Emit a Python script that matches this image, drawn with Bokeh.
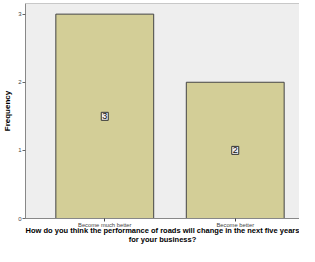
from bokeh.plotting import figure
from bokeh.models import Range1d, FixedTicker, Span, ColumnDataSource, LinearAxis
from bokeh.core.properties import value
from bokeh.embed import file_html
from bokeh.resources import INLINE

categories = ["Become much better", "Become better"]
positions = [1, 2]
counts = [3, 2]
y_ticks = [0, 1, 2, 3]
x_title_lines = ["How do you think the performance of roads will change in the next five years",
                 "for your business?"]
y_title = "Frequency"

FONT = "Liberation Sans"

p = figure(width=299, height=246, output_backend="svg", toolbar_location=None,
           x_range=Range1d(0.3925, 2.4925), y_range=Range1d(0, 3.156),
           min_border_left=19, min_border_top=3, min_border_bottom=0, min_border_right=0)
p.background_fill_color = "#eeeeee"
p.border_fill_color = "white"
p.outline_line_color = None
p.xgrid.visible = False
p.ygrid.visible = False

src = ColumnDataSource(dict(x=positions, top=counts, mid=[c / 2 for c in counts],
                            lab=[str(c) for c in counts]))
p.vbar(x="x", top="top", width=0.75, source=src, fill_color="#d3ce97",
       line_color="#444444", line_width=1)
p.text(x="x", y="mid", text="lab", source=src, text_align="center", text_baseline="middle",
       text_font=value(FONT), text_font_size="9px", text_color="#111111",
       background_fill_color="#eeeeee", border_line_color="#333333", border_line_width=1,
       padding=1)

p.add_layout(Span(location=3.156, dimension="width", line_color="#999999", line_width=1))

ya = p.yaxis[0]
ya.ticker = FixedTicker(ticks=y_ticks)
ya.minor_tick_line_color = None
ya.major_tick_in = 0
ya.major_tick_out = 3
ya.axis_line_color = "#888888"
ya.major_tick_line_color = "#666666"
ya.major_label_text_font = FONT
ya.major_label_text_font_size = "6px"
ya.major_label_standoff = 1
ya.axis_label = y_title
ya.axis_label_text_font = FONT
ya.axis_label_text_font_size = "8px"
ya.axis_label_text_font_style = "bold"
ya.axis_label_text_color = "black"
ya.axis_label_standoff = 3

xa = p.xaxis[0]
xa.ticker = FixedTicker(ticks=positions)
xa.major_label_overrides = {pos: cat for pos, cat in zip(positions, categories)}
xa.minor_tick_line_color = None
xa.major_tick_in = 0
xa.major_tick_out = 3
xa.axis_line_color = "#888888"
xa.major_tick_line_color = "#444444"
xa.major_label_text_font = FONT
xa.major_label_text_font_size = "5.8px"
xa.major_label_standoff = 0
xa.axis_label = x_title_lines[0]
xa.axis_label_text_font = FONT
xa.axis_label_text_font_size = "7.5px"
xa.axis_label_text_font_style = "bold"
xa.axis_label_text_color = "black"
xa.axis_label_standoff = -5

xa2 = LinearAxis(ticker=FixedTicker(ticks=[]), major_tick_out=0, major_tick_in=0,
                 minor_tick_out=0, minor_tick_in=0, axis_line_color=None,
                 major_label_text_font_size="0px", major_label_standoff=0,
                 axis_label=x_title_lines[1], axis_label_text_font=FONT,
                 axis_label_text_font_size="7.5px", axis_label_text_font_style="bold",
                 axis_label_text_color="black", axis_label_standoff=-3)
p.add_layout(xa2, "below")

open("out.html", "w").write(file_html(p, INLINE))
